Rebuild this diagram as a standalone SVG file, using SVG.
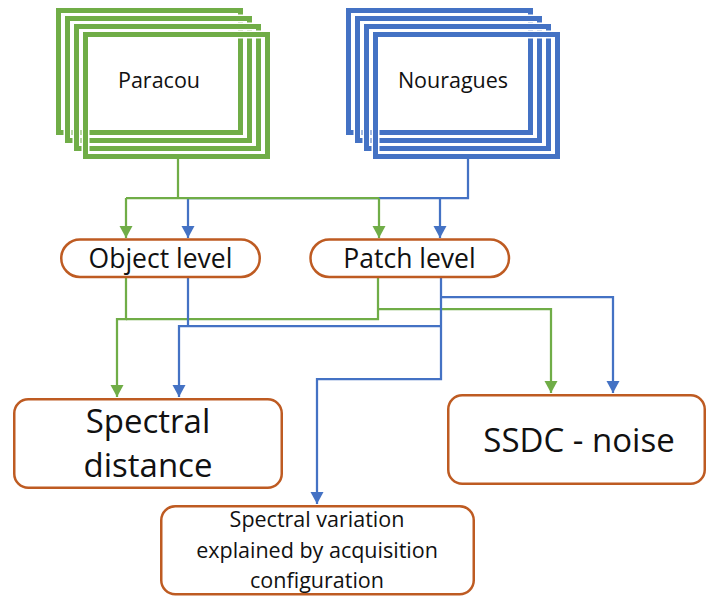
<svg xmlns="http://www.w3.org/2000/svg" width="709" height="596" viewBox="0 0 709 596">
  <defs>
    <marker id="arrG" markerUnits="userSpaceOnUse" markerWidth="14" markerHeight="14" viewBox="0 0 14 14" refX="13" refY="7" orient="auto">
      <path d="M1,0.5 L13,7 L1,13.5 Z" fill="#70AD47"/>
    </marker>
    <marker id="arrB" markerUnits="userSpaceOnUse" markerWidth="14" markerHeight="14" viewBox="0 0 14 14" refX="13" refY="7" orient="auto">
      <path d="M1,0.5 L13,7 L1,13.5 Z" fill="#4472C4"/>
    </marker>
  </defs>
  <style>
    .frameG { fill: none; stroke: #70AD47; stroke-width: 5; }
    .frameB { fill: none; stroke: #4472C4; stroke-width: 5; }
    .halo { fill: none; stroke: #ffffff; stroke-width: 8; }
    .pill, .box { fill: #ffffff; stroke: #BE5B22; stroke-width: 2.5; }
    .g { fill: none; stroke: #70AD47; stroke-width: 2.25; }
    .b { fill: none; stroke: #4472C4; stroke-width: 2.25; }
    .ga { marker-end: url(#arrG); }
    .ba { marker-end: url(#arrB); }
    text { font-family: "Open Sans", "Noto Sans", "Liberation Sans", sans-serif; fill: #111111; text-anchor: middle; }
    .site { font-size: 21.5px; }
    .lvl { font-size: 26.5px; }
    .big { font-size: 33px; }
    .small { font-size: 21.5px; }
  </style>
  <rect width="709" height="596" fill="#ffffff"/>

  <!-- Paracou: stack of frames, back to front -->
  <g id="paracou">
    <rect class="halo" x="58.5" y="10.5" width="182" height="122"/>
    <rect class="frameG" x="58.5" y="10.5" width="182" height="122"/>
    <rect class="halo" x="67.5" y="18.5" width="182" height="122"/>
    <rect class="frameG" x="67.5" y="18.5" width="182" height="122"/>
    <rect class="halo" x="76.5" y="26.5" width="182" height="122"/>
    <rect class="frameG" x="76.5" y="26.5" width="182" height="122"/>
    <rect class="halo" x="85.5" y="34.5" width="182" height="122"/>
    <rect class="frameG" x="85.5" y="34.5" width="182" height="122"/>
    <text class="site" x="159" y="88">Paracou</text>
  </g>

  <!-- Nouragues: stack of frames, back to front -->
  <g id="nouragues">
    <rect class="halo" x="348.5" y="10.5" width="182" height="122"/>
    <rect class="frameB" x="348.5" y="10.5" width="182" height="122"/>
    <rect class="halo" x="357.5" y="18.5" width="182" height="122"/>
    <rect class="frameB" x="357.5" y="18.5" width="182" height="122"/>
    <rect class="halo" x="366.5" y="26.5" width="182" height="122"/>
    <rect class="frameB" x="366.5" y="26.5" width="182" height="122"/>
    <rect class="halo" x="375.5" y="34.5" width="182" height="122"/>
    <rect class="frameB" x="375.5" y="34.5" width="182" height="122"/>
    <text class="site" x="453" y="88">Nouragues</text>
  </g>

  <g id="connectors">
    <!-- sites to levels -->
    <path class="b" d="M468,159 V198 H188"/>
    <path class="b ba" d="M188,198 V238"/>
    <path class="b ba" d="M440,198 V238"/>
    <path class="g" d="M178,159 V198"/>
    <path class="g" d="M126,198 H379"/>
    <path class="g ga" d="M126,198 V238"/>
    <path class="g ga" d="M379,198 V238"/>

    <!-- levels to outputs -->
    <path class="g ga" d="M126,277 V319 H117 V397"/>
    <path class="g" d="M378,277 V319 H126"/>
    <path class="g ga" d="M378,309 H551 V393"/>
    <path class="b" d="M188,277 V326"/>
    <path class="b ba" d="M441,277 V379 H317 V504"/>
    <path class="b ba" d="M441,326 H179 V397"/>
    <path class="b ba" d="M441,297 H613 V393"/>
  </g>

  <g id="object-level">
    <rect class="pill" x="61.25" y="239.5" width="198.5" height="37.5" rx="18.75"/>
    <text class="lvl" x="160.5" y="268">Object level</text>
  </g>

  <g id="patch-level">
    <rect class="pill" x="310.5" y="239.5" width="198.5" height="37.5" rx="18.75"/>
    <text class="lvl" x="409.5" y="268">Patch level</text>
  </g>

  <g id="spectral-distance">
    <rect class="box" x="14.25" y="399.25" width="267.5" height="88.5" rx="14"/>
    <text class="big" x="148" y="433">Spectral</text>
    <text class="big" x="148" y="477">distance</text>
  </g>

  <g id="ssdc-noise">
    <rect class="box" x="448.25" y="395.25" width="256.5" height="88.5" rx="14"/>
    <text class="big" x="579" y="452">SSDC - noise</text>
  </g>

  <g id="acquisition">
    <rect class="box" x="161.25" y="506.25" width="312.5" height="88" rx="14"/>
    <text class="small" x="317" y="527">Spectral variation</text>
    <text class="small" x="317" y="558">explained by acquisition</text>
    <text class="small" x="317" y="588">configuration</text>
  </g>
</svg>
